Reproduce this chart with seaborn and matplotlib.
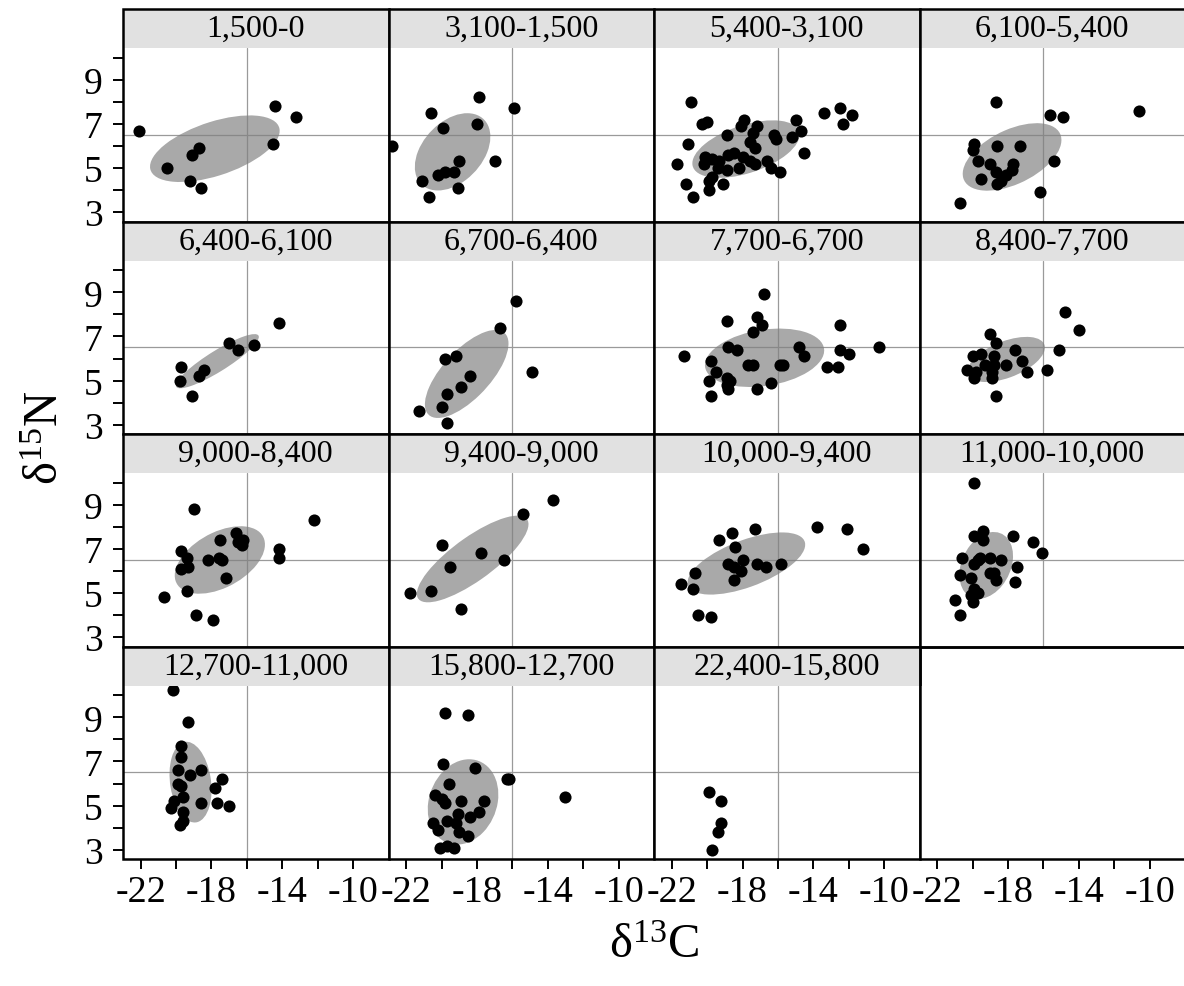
import numpy as np
import pandas as pd
import matplotlib
matplotlib.use("Agg")
import matplotlib.pyplot as plt
import seaborn as sns
from matplotlib.patches import Ellipse, Rectangle
from matplotlib.ticker import FixedLocator

# ---------------- data ----------------
periods = ["1,500-0", "3,100-1,500", "5,400-3,100", "6,100-5,400",
           "6,400-6,100", "6,700-6,400", "7,700-6,700", "8,400-7,700",
           "9,000-8,400", "9,400-9,000", "10,000-9,400", "11,000-10,000",
           "12,700-11,000", "15,800-12,700", "22,400-15,800"]

d13C_01 = [-22.1, -20.5, -19.1, -18.7, -19.2, -18.6, -14.4, -13.2, -14.5]
d15N_01 = [6.7, 5.0, 5.6, 5.9, 4.4, 4.1, 7.8, 7.3, 6.1]

d13C_02 = [-22.8, -20.6, -17.9, -15.9, -19.9, -18.0, -17.0, -19.0, -19.3, -19.8, -20.2, -21.1, -20.7, -19.1]
d15N_02 = [6.0, 7.5, 8.2, 7.7, 6.8, 7.0, 5.3, 5.3, 4.8, 4.8, 4.7, 4.4, 3.7, 4.1]

d13C_03 = [-20.9, -20.3, -20.0, -21.1, -21.7, -21.2, -20.8, -18.9, -17.9, -18.1, -17.2, -17.4, -17.6,
           -17.3, -16.2, -16.1, -15.0, -14.7, -15.2, -14.5, -13.4, -12.5, -11.8, -12.3, -20.1, -20.2,
           -19.7, -19.3, -19.4, -18.8, -18.5, -18.0, -17.6, -17.3, -18.2, -18.9, -16.6, -16.4, -15.9,
           -19.7, -19.9, -19.1, -19.9]
d15N_03 = [8.0, 7.0, 7.1, 6.1, 5.2, 4.3, 3.7, 6.5, 7.2, 6.9, 6.9, 6.6, 6.2,
           5.9, 6.5, 6.3, 7.2, 6.7, 6.4, 5.7, 7.5, 7.7, 7.4, 7.0, 5.5, 5.2,
           5.4, 5.3, 5.0, 5.6, 5.7, 5.5, 5.3, 5.2, 5.0, 4.9, 5.3, 5.0, 4.8,
           4.6, 4.4, 4.3, 4.0]

d13C_04 = [-18.7, -15.6, -14.9, -10.6, -19.9, -20.0, -18.6, -17.3, -19.7, -19.0, -18.7, -17.7, -17.8,
           -18.1, -18.4, -18.6, -19.5, -15.4, -16.2, -20.7]
d15N_04 = [8.0, 7.4, 7.3, 7.6, 6.1, 5.8, 6.0, 6.0, 5.3, 5.2, 4.8, 5.2, 4.9,
           4.7, 4.4, 4.3, 4.5, 5.3, 3.9, 3.4]

d13C_05 = [-14.2, -17.0, -16.5, -15.6, -19.7, -18.4, -18.7, -19.8, -19.1]
d15N_05 = [7.6, 6.7, 6.4, 6.6, 5.6, 5.5, 5.2, 5.0, 4.3]

d13C_06 = [-15.8, -16.7, -19.8, -19.2, -14.9, -18.4, -18.9, -19.7, -20.0, -21.3, -19.7]
d15N_06 = [8.6, 7.4, 6.0, 6.1, 5.4, 5.2, 4.7, 4.4, 3.8, 3.6, 3.1]

d13C_07 = [-16.8, -18.9, -17.2, -16.9, -17.4, -12.5, -18.8, -18.3, -14.8, -14.5, -12.5, -12.0, -10.3,
           -21.3, -19.8, -19.5, -17.7, -17.4, -15.9, -15.7, -13.2, -12.6, -19.9, -18.9, -18.7, -18.9,
           -18.8, -17.2, -16.4, -19.8]
d15N_07 = [8.9, 7.7, 7.9, 7.5, 7.2, 7.5, 6.5, 6.4, 6.5, 6.1, 6.4, 6.2, 6.5,
           6.1, 5.9, 5.4, 5.7, 5.7, 5.7, 5.7, 5.6, 5.6, 5.0, 5.1, 5.0, 4.8,
           4.6, 4.6, 4.9, 4.3]

d13C_08 = [-14.8, -14.0, -15.1, -19.0, -18.7, -17.6, -20.0, -19.5, -18.8, -19.3, -18.8, -18.1, -17.2,
           -20.3, -19.8, -18.9, -19.9, -18.9, -16.9, -15.8, -18.7]
d15N_08 = [8.1, 7.3, 6.4, 7.1, 6.7, 6.4, 6.1, 6.2, 6.1, 5.7, 5.7, 5.7, 5.9,
           5.5, 5.4, 5.4, 5.1, 5.1, 5.4, 5.5, 4.3]

d13C_09 = [-19.0, -12.2, -16.6, -17.5, -16.5, -16.2, -16.3, -19.7, -19.4, -18.2, -17.6, -17.4, -14.2,
           -14.2, -19.7, -19.3, -17.2, -19.4, -20.7, -18.9, -17.9]
d15N_09 = [8.8, 8.3, 7.7, 7.4, 7.3, 7.4, 7.2, 6.9, 6.6, 6.5, 6.6, 6.5, 7.0,
           6.6, 6.1, 6.2, 5.7, 5.1, 4.8, 4.0, 3.8]

d13C_10 = [-13.7, -15.4, -20.0, -17.8, -16.5, -19.5, -20.6, -21.8, -18.9]
d15N_10 = [9.2, 8.6, 7.2, 6.8, 6.5, 6.2, 5.1, 5.0, 4.3]

d13C_11 = [-13.8, -12.1, -11.2, -17.3, -18.6, -19.3, -18.4, -18.0, -18.8, -18.5, -18.1, -17.2, -16.7,
           -15.8, -18.5, -20.7, -21.5, -20.8, -20.5, -19.8]
d15N_11 = [8.0, 7.9, 7.0, 7.9, 7.7, 7.4, 7.1, 6.5, 6.3, 6.2, 6.0, 6.3, 6.2,
           6.3, 5.6, 5.9, 5.4, 5.2, 4.0, 3.9]

d13C_12 = [-19.9, -19.9, -19.4, -19.4, -17.7, -16.6, -16.1, -20.6, -19.6, -19.0, -18.4, -19.9, -19.7,
           -17.5, -20.7, -20.1, -19.0, -18.8, -18.7, -17.6, -19.9, -19.7, -20.1, -20.0, -21.0, -20.7]
d15N_12 = [10.0, 7.6, 7.8, 7.4, 7.6, 7.3, 6.8, 6.6, 6.6, 6.6, 6.5, 6.3, 6.5,
           6.2, 5.8, 5.7, 5.9, 5.9, 5.6, 5.5, 5.2, 5.0, 4.9, 4.6, 4.7, 4.0]

d13C_13 = [-20.2, -19.3, -19.7, -19.7, -19.9, -19.2, -18.6, -19.9, -19.7, -17.4, -17.8, -19.6, -20.1,
           -18.6, -17.7, -17.0, -20.3, -19.6, -19.6, -19.8]
d15N_13 = [10.25, 8.8, 7.7, 7.2, 6.6, 6.4, 6.6, 6.0, 5.9, 6.2, 5.8, 5.4, 5.2,
           5.1, 5.1, 5.0, 4.9, 4.7, 4.3, 4.1]

d13C_14 = [-19.8, -18.5, -19.9, -18.1, -16.3, -16.2, -13.0, -19.6, -20.4, -20.0, -19.8, -18.9, -17.6,
           -17.9, -18.4, -19.1, -19.7, -19.2, -20.5, -20.2, -19.0, -18.5, -20.1, -19.7, -19.3]
d15N_14 = [9.2, 9.1, 6.9, 6.7, 6.2, 6.2, 5.4, 6.0, 5.5, 5.3, 5.1, 5.2, 5.2,
           4.7, 4.5, 4.6, 4.3, 4.2, 4.2, 3.9, 3.8, 3.6, 3.1, 3.15, 3.1]

d13C_15 = [-19.9, -19.2, -19.2, -19.4, -19.7]
d15N_15 = [5.6, 5.2, 4.2, 3.8, 3.0]

ref_d13C = -16.0          # reference lines
ref_d15N = 6.5
x_major = [-22, -18, -14, -10]
x_minor = [-20, -16, -12]
y_major = [3, 5, 7, 9]
y_minor = [4, 6, 8, 10]
x_lim = (-23.0, -8.0)
y_lim = (2.58, 10.44)

all_d13C = [d13C_01, d13C_02, d13C_03, d13C_04, d13C_05, d13C_06, d13C_07, d13C_08,
            d13C_09, d13C_10, d13C_11, d13C_12, d13C_13, d13C_14, d13C_15]
all_d15N = [d15N_01, d15N_02, d15N_03, d15N_04, d15N_05, d15N_06, d15N_07, d15N_08,
            d15N_09, d15N_10, d15N_11, d15N_12, d15N_13, d15N_14, d15N_15]

df = pd.concat([pd.DataFrame({"period": p, "d13C": xs, "d15N": ys})
                for p, xs, ys in zip(periods, all_d13C, all_d15N)], ignore_index=True)
df["period"] = pd.Categorical(df["period"], categories=periods, ordered=True)

# ---------------- style ----------------
sns.set_theme(style="white")
plt.rcParams["font.family"] = ["Liberation Serif", "DejaVu Serif"]
plt.rcParams["mathtext.fontset"] = "custom"
plt.rcParams["mathtext.rm"] = "Liberation Serif"
plt.rcParams["mathtext.it"] = "Liberation Serif:italic"
plt.rcParams["mathtext.bf"] = "Liberation Serif:bold"
plt.rcParams["axes.unicode_minus"] = False
plt.rcParams["text.color"] = "black"
plt.rcParams["xtick.color"] = "black"
plt.rcParams["ytick.color"] = "black"

ELL_SCALE = 1.2


def background(data, **kws):
    ax = plt.gca()
    ax.axvline(ref_d13C, color="#9a9a9a", lw=0.9, zorder=1)
    ax.axhline(ref_d15N, color="#9a9a9a", lw=0.9, zorder=1)
    if len(data) >= 6:
        x = data["d13C"].to_numpy(float)
        y = data["d15N"].to_numpy(float)
        cov = np.cov(x, y)
        vals, vecs = np.linalg.eigh(cov)
        order = vals.argsort()[::-1]
        vals, vecs = vals[order], vecs[:, order]
        angle = np.degrees(np.arctan2(vecs[1, 0], vecs[0, 0]))
        w, h = 2 * ELL_SCALE * np.sqrt(vals)
        ax.add_patch(Ellipse((x.mean(), y.mean()), w, h, angle=angle,
                             facecolor="#808080", alpha=0.68, edgecolor="none", zorder=2))


g = sns.FacetGrid(df, col="period", col_wrap=4, col_order=periods,
                  sharex=True, sharey=True, despine=False, height=2.2, aspect=1.2)
g.map_dataframe(background)
g.map_dataframe(sns.scatterplot, x="d13C", y="d15N", color="black", s=76,
                linewidth=0, zorder=3)
g.set_titles("")
g.set_axis_labels("", "")

fig = g.figure
fig.set_size_inches(11.84, 9.87)
FW, FH = 1184.0, 987.0

LEFT = 123.0
PW = 265.5
TOP = 10.0
PITCH = 212.5
STRIP = 39.0
PH = PITCH - STRIP
SH = STRIP / PH


def rect_for(r, c):
    left = (LEFT + c * PW) / FW
    bottom = 1 - (TOP + r * PITCH + PITCH) / FH
    return [left, bottom, PW / FW, PH / FH]


def frame(ax):
    for sp in ax.spines.values():
        sp.set_visible(False)
    ax.add_patch(Rectangle((0, 0), 1, 1 + SH, transform=ax.transAxes, fill=False,
                           edgecolor="black", lw=1.8, clip_on=False, zorder=6))


def style_ticks(ax, r, c):
    ax.set_xlim(*x_lim)
    ax.set_ylim(*y_lim)
    ax.xaxis.set_major_locator(FixedLocator(x_major))
    ax.xaxis.set_minor_locator(FixedLocator(x_minor))
    ax.yaxis.set_major_locator(FixedLocator(y_major))
    ax.yaxis.set_minor_locator(FixedLocator(y_minor))
    ax.tick_params(axis="both", which="both", direction="out", length=7.5, width=1.4,
                   colors="black")
    ax.tick_params(axis="x", which="major", labelsize=27.5, pad=4)
    ax.tick_params(axis="y", which="major", labelsize=27, pad=7)
    ax.tick_params(axis="x", which="both", bottom=(r == 3), labelbottom=(r == 3),
                   top=False, labeltop=False)
    ax.tick_params(axis="y", which="both", left=(c == 0), labelleft=(c == 0),
                   right=False, labelright=False)


for i, ax in enumerate(g.axes.flat):
    r, c = divmod(i, 4)
    ax.set_position(rect_for(r, c))
    style_ticks(ax, r, c)
    ax.add_patch(Rectangle((0, 1), 1, SH, transform=ax.transAxes, facecolor="#e1e1e1",
                           edgecolor="none", clip_on=False, zorder=5))
    ax.text(0.5, 1 + SH / 2, periods[i], transform=ax.transAxes, ha="center",
            va="center", fontsize=23, zorder=7)
    frame(ax)
    ax.set_xlabel("")
    ax.set_ylabel("")

# empty 16th cell
ax16 = fig.add_axes(rect_for(3, 3), sharex=g.axes.flat[0], sharey=g.axes.flat[0])
style_ticks(ax16, 3, 3)
ax16.tick_params(axis="y", which="both", left=False, labelleft=False)
ax16.set_facecolor("white")
frame(ax16)

fig.text(654 / FW, 1 - 946 / FH, "δ$^{13}$C", ha="center", va="center", fontsize=35)
fig.text(46 / FW, 1 - 438 / FH, "δ$^{15}$N", ha="center", va="center", fontsize=35,
         rotation=90)

fig.savefig("out.png", dpi=100, facecolor="white")
